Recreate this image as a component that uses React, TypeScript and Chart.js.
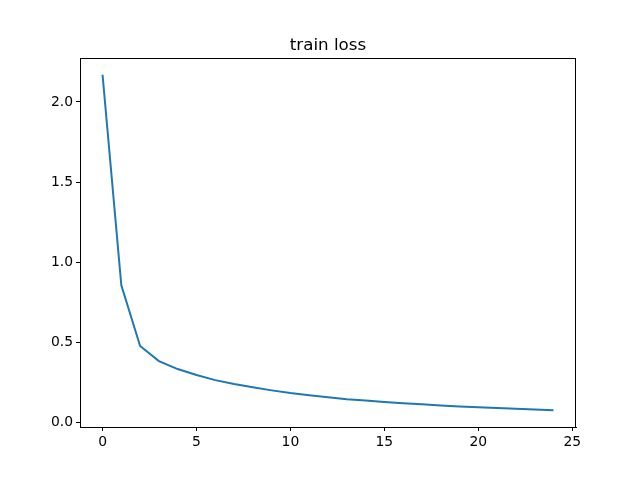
import React, { useEffect, useRef } from "react";
import { Chart, registerables } from "chart.js";

Chart.register(...registerables);

const titleText = "train loss";
const epochs = [0, 1, 2, 3, 4, 5, 6, 7, 8, 9, 10, 11, 12, 13, 14, 15, 16, 17, 18, 19, 20, 21, 22, 23, 24];
const lossValues = [
  2.17, 0.855, 0.476, 0.382, 0.332, 0.295, 0.263, 0.239, 0.218, 0.199,
  0.182, 0.168, 0.156, 0.144, 0.135, 0.126, 0.118, 0.112, 0.105, 0.099,
  0.094, 0.089, 0.084, 0.079, 0.075,
];
const xTicks = [0, 5, 10, 15, 20, 25];
const yTicks = [0, 0.5, 1.0, 1.5, 2.0];

const FONT = "'DejaVu Sans', sans-serif";

export default function App() {
  const ref = useRef<HTMLCanvasElement | null>(null);

  useEffect(() => {
    const canvas = ref.current;
    if (!canvas) return;
    const xMin = Math.min(...epochs);
    const xMax = Math.max(...epochs);
    const xm = (xMax - xMin) * 0.05;
    const yMin = Math.min(...lossValues);
    const yMax = Math.max(...lossValues);
    const ym = (yMax - yMin) * 0.05;

    const framePlugin = {
      id: "frame",
      afterDraw(chart: any) {
        const { ctx, chartArea } = chart;
        ctx.save();
        ctx.strokeStyle = "#000";
        ctx.lineWidth = 1;
        ctx.strokeRect(
          Math.round(chartArea.left) + 0.5,
          Math.round(chartArea.top) + 0.5,
          Math.round(chartArea.right - chartArea.left) - 1,
          Math.round(chartArea.bottom - chartArea.top)
        );
        ctx.fillStyle = "#000";
        ctx.font = `16.7px ${FONT}`;
        ctx.textAlign = "center";
        ctx.textBaseline = "alphabetic";
        ctx.fillText(titleText, (chartArea.left + chartArea.right) / 2, chartArea.top - 8);
        ctx.restore();
      },
    };

    const chart = new Chart(canvas, {
      type: "line",
      data: {
        datasets: [
          {
            label: titleText,
            data: epochs.map((e, i) => ({ x: e, y: lossValues[i] })),
            borderColor: "#1f77b4",
            backgroundColor: "#1f77b4",
            borderWidth: 2,
            pointRadius: 0,
            tension: 0,
            fill: false,
          },
        ],
      },
      options: {
        animation: false,
        responsive: false,
        maintainAspectRatio: false,
        layout: { padding: { left: 0, right: 64, top: 58, bottom: 0 } },
        plugins: {
          legend: { display: false },
          title: { display: false },
          tooltip: { enabled: false },
        },
        scales: {
          x: {
            type: "linear",
            min: xMin - xm,
            max: xMax + xm,
            afterBuildTicks: (s: any) => {
              s.ticks = xTicks.map((v) => ({ value: v }));
            },
            afterFit: (s: any) => {
              s.height = 53;
            },
            grid: {
              drawOnChartArea: false,
              drawTicks: true,
              tickLength: 4,
              color: "#000",
            },
            border: { display: true, color: "#000" },
            ticks: {
              color: "#000",
              padding: 3,
              maxRotation: 0,
              font: { family: FONT, size: 13.9 },
              callback: (v: any) => String(v),
            },
          },
          y: {
            type: "linear",
            min: yMin - ym,
            max: yMax + ym,
            afterBuildTicks: (s: any) => {
              s.ticks = yTicks.map((v) => ({ value: v }));
            },
            afterFit: (s: any) => {
              s.width = 80;
            },
            grid: {
              drawOnChartArea: false,
              drawTicks: true,
              tickLength: 4,
              color: "#000",
            },
            border: { display: true, color: "#000" },
            ticks: {
              color: "#000",
              padding: 3,
              font: { family: FONT, size: 13.9 },
              callback: (v: any) => Number(v).toFixed(1),
            },
          },
        },
      },
      plugins: [framePlugin],
    });
    return () => chart.destroy();
  }, []);

  return (
    <div style={{ position: "absolute", left: 0, top: 0, width: 640, height: 480, background: "#fff" }}>
      <canvas ref={ref} width={640} height={480} style={{ width: 640, height: 480 }} />
    </div>
  );
}
